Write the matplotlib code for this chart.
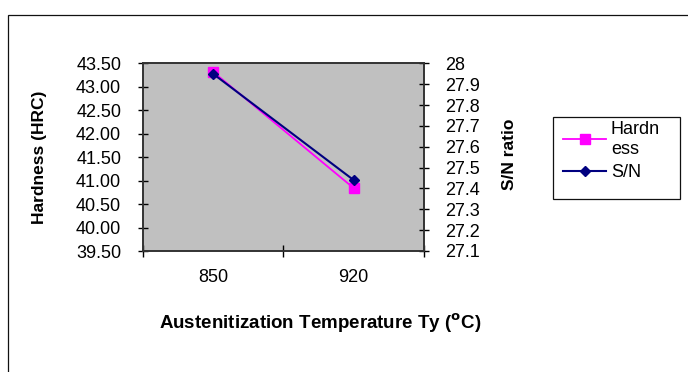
import matplotlib.pyplot as plt
from matplotlib.patches import Rectangle

plt.rcParams['font.family'] = ['Liberation Sans', 'DejaVu Sans']

temps = ['850', '920']
hardness = [43.32, 40.84]
sn_ratio = [27.95, 27.44]
hard_ticks = [39.5, 40.0, 40.5, 41.0, 41.5, 42.0, 42.5, 43.0, 43.5]
sn_ticks = [27.1, 27.2, 27.3, 27.4, 27.5, 27.6, 27.7, 27.8, 27.9, 28.0]

W, H = 688, 372
fig = plt.figure(figsize=(W / 100, H / 100), dpi=100)

# outer chart frame
fig.patches.append(Rectangle((8 / W, -0.01), 1.0, (H - 14.5) / H + 0.01,
                             transform=fig.transFigure, fill=False,
                             edgecolor='#111111', linewidth=0.9))

x0, x1, y0, y1 = 142.7, 424.0, 63.3, 251.0
ax = fig.add_axes([x0 / W, (H - y1) / H, (x1 - x0) / W, (y1 - y0) / H])
ax.set_facecolor('#c0c0c0')
x = [0, 1]
l1, = ax.plot(x, hardness, color='#ff00ff', marker='s', markersize=7,
              linewidth=1.3, zorder=3)
ax.set_xlim(-0.5, 1.5)
ax.set_ylim(39.5, 43.5)
ax.set_yticks(hard_ticks)
ax.set_yticklabels([f'{t:.2f}' for t in hard_ticks], fontsize=13)
ax.set_xticks(x)
ax.set_xticklabels(temps, fontsize=13)
ax.tick_params(axis='x', length=0, pad=13)
ax.set_xticks([-0.5, 0.5, 1.5], minor=True)
ax.tick_params(axis='x', which='minor', length=8, direction='inout', width=1)
ax.tick_params(axis='y', length=7, direction='inout', width=1, pad=12)
for s in ax.spines.values():
    s.set_color('#333333')
    s.set_linewidth(1.2)
ax.set_ylabel('Hardness (HRC)', fontsize=12.5, fontweight='bold')
ax.yaxis.label.set_va('center')
ax.yaxis.set_label_coords((39.5 - x0) / (x1 - x0), 0.5)
ax.set_xlabel(r'Austenitization Temperature Ty ($\mathbf{^{o}}$C)', fontsize=13.5,
              fontweight='bold')
ax.xaxis.label.set_va('center')
ax.xaxis.set_label_coords((320 - x0) / (x1 - x0), (y1 - 323) / (y1 - y0))

ax2 = ax.twinx()
l2, = ax2.plot(x, sn_ratio, color='#000080', marker='D', markersize=5.5,
               linewidth=1.5, zorder=4)
ax2.set_ylim(27.1, 28.0)
ax2.set_yticks(sn_ticks)
ax2.set_yticklabels([f'{t:g}' for t in sn_ticks], fontsize=13)
ax2.tick_params(axis='y', length=7, direction='inout', width=1, pad=11.5)
for s in ax2.spines.values():
    s.set_color('#333333')
    s.set_linewidth(1.2)
ax2.set_ylabel('S/N ratio', fontsize=12.5, fontweight='bold')
ax2.yaxis.label.set_va('center')
ax2.yaxis.set_label_coords((509 - x0) / (x1 - x0), 0.515)

# legend: Excel-style box with extra room below the entries
fig.patches.append(Rectangle((553 / W, 1 - 199 / H), 127 / W, 82 / H,
                             transform=fig.transFigure, fill=False,
                             edgecolor='#111111', linewidth=0.9))
fig.legend([l1, l2], ['Hardn\ness', 'S/N'], loc='upper left',
           bbox_to_anchor=(563 / W, 1 - 121 / H), fontsize=13,
           frameon=False, borderpad=0, borderaxespad=0,
           handlelength=2.4, handletextpad=0.25, labelspacing=0.38)

fig.savefig('out.png', dpi=100)
